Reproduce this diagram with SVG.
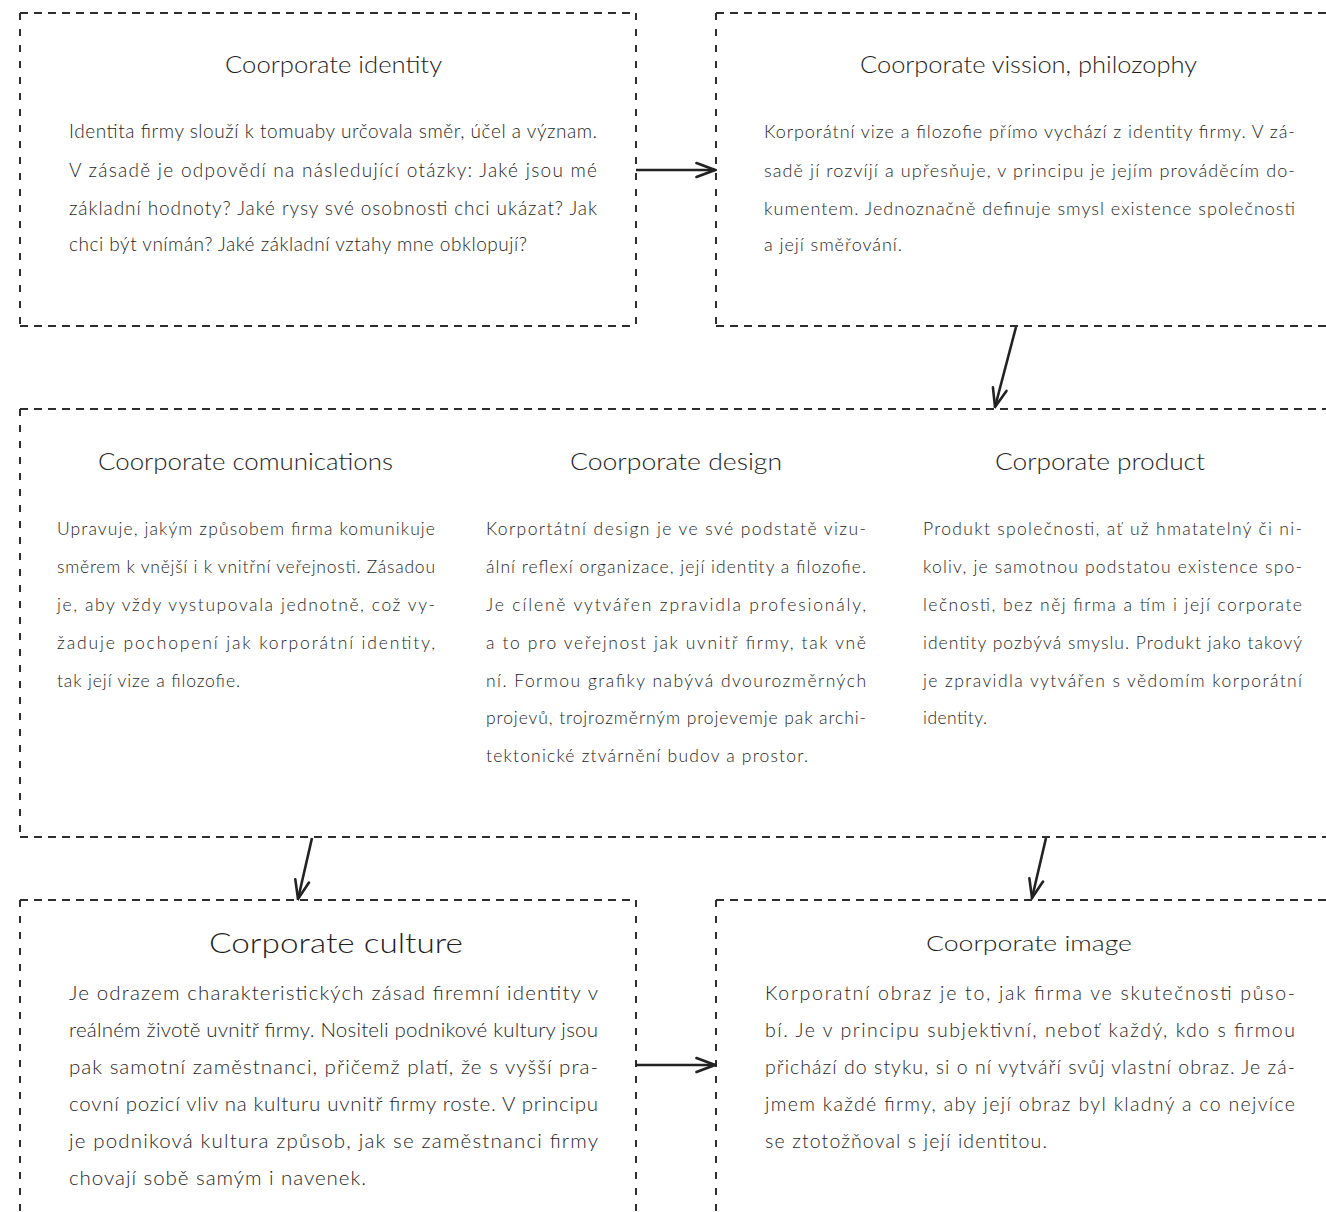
<svg xmlns="http://www.w3.org/2000/svg" width="1326" height="1212" viewBox="0 0 1326 1212">
<defs>
<style>
.bg{fill:#ffffff}
.h{stroke:#2e2e2e;stroke-width:2;stroke-dasharray:8 6;fill:none}
.v{stroke:#2e2e2e;stroke-width:2;stroke-dasharray:7 9;fill:none}
.t{font-family:Lato,"Liberation Sans",sans-serif;font-weight:300;fill:#1e1e1e}
.b{font-family:Lato,"Liberation Sans",sans-serif;font-weight:300;fill:#1f1f1f}
.conn{stroke:#222222;stroke-width:2.6;fill:none;marker-end:url(#arr)}
</style>
<marker id="arr" viewBox="0 0 22 18" refX="20.5" refY="9" markerWidth="22" markerHeight="18" markerUnits="userSpaceOnUse" orient="auto">
<path d="M2,2 L20.5,9 L2,16" fill="none" stroke="#222222" stroke-width="2.6" stroke-linecap="round" stroke-linejoin="miter"/>
</marker>
</defs>
<rect class="bg" x="0" y="0" width="1326" height="1212"/>

<g id="node-identity">
<line class="h" x1="20" y1="13" x2="636" y2="13"/>
<line class="h" x1="20" y1="326" x2="636" y2="326"/>
<line class="v" x1="20" y1="13" x2="20" y2="326"/>
<line class="v" x1="636" y1="13" x2="636" y2="326"/>
<text class="t" x="225" y="73" font-size="23" textLength="217" lengthAdjust="spacingAndGlyphs">Coorporate identity</text>
<g class="b" font-size="19">
<text x="69" y="138" textLength="528" lengthAdjust="spacing">Identita firmy slouží k tomuaby určovala směr, účel a význam.</text>
<text x="69" y="177" textLength="528" lengthAdjust="spacing">V zásadě je odpovědí na následující otázky: Jaké jsou mé</text>
<text x="69" y="215" textLength="528" lengthAdjust="spacing">základní hodnoty? Jaké rysy své osobnosti chci ukázat? Jak</text>
<text x="69" y="251" textLength="458" lengthAdjust="spacing">chci být vnímán? Jaké základní vztahy mne obklopují?</text>
</g>
</g>

<g id="node-vision">
<line class="h" x1="716" y1="13" x2="1326" y2="13"/>
<line class="h" x1="716" y1="326" x2="1326" y2="326"/>
<line class="v" x1="716" y1="13" x2="716" y2="326"/>
<text class="t" x="860" y="73" font-size="23" textLength="337" lengthAdjust="spacingAndGlyphs">Coorporate vission, philozophy</text>
<g class="b" font-size="18">
<text x="764" y="138" textLength="531" lengthAdjust="spacing">Korporátní vize a filozofie přímo vychází z identity firmy. V zá-</text>
<text x="764" y="177" textLength="531" lengthAdjust="spacing">sadě jí rozvíjí a upřesňuje, v principu je jejím prováděcím do-</text>
<text x="764" y="215" textLength="531" lengthAdjust="spacing">kumentem. Jednoznačně definuje smysl existence společnosti</text>
<text x="764" y="251" textLength="138" lengthAdjust="spacing">a její směřování.</text>
</g>
</g>

<g id="node-communications-design-product">
<line class="h" x1="20" y1="409" x2="1326" y2="409"/>
<line class="h" x1="20" y1="837" x2="1326" y2="837"/>
<line class="v" x1="20" y1="409" x2="20" y2="837"/>
<g id="col-communications">
<text class="t" x="98" y="470" font-size="23" textLength="295" lengthAdjust="spacingAndGlyphs">Coorporate comunications</text>
<g class="b" font-size="17.5">
<text x="57" y="535" textLength="378" lengthAdjust="spacing">Upravuje, jakým způsobem firma komunikuje</text>
<text x="57" y="573" textLength="378" lengthAdjust="spacing">směrem k vnější i k vnitřní veřejnosti. Zásadou</text>
<text x="57" y="611" textLength="378" lengthAdjust="spacing">je, aby vždy vystupovala jednotně, což vy-</text>
<text x="57" y="649" textLength="378" lengthAdjust="spacing">žaduje pochopení jak korporátní identity,</text>
<text x="57" y="687" textLength="183" lengthAdjust="spacing">tak její vize a filozofie.</text>
</g>
</g>
<g id="col-design">
<text class="t" x="570" y="470" font-size="23" textLength="212" lengthAdjust="spacingAndGlyphs">Coorporate design</text>
<g class="b" font-size="17.5">
<text x="486" y="535" textLength="380" lengthAdjust="spacing">Korportátní design je ve své podstatě vizu-</text>
<text x="486" y="573" textLength="380" lengthAdjust="spacing">ální reflexí organizace, její identity a filozofie.</text>
<text x="486" y="611" textLength="380" lengthAdjust="spacing">Je cíleně vytvářen zpravidla profesionály,</text>
<text x="486" y="649" textLength="380" lengthAdjust="spacing">a to pro veřejnost jak uvnitř firmy, tak vně</text>
<text x="486" y="687" textLength="380" lengthAdjust="spacing">ní. Formou grafiky nabývá dvourozměrných</text>
<text x="486" y="724" textLength="380" lengthAdjust="spacing">projevů, trojrozměrným projevemje pak archi-</text>
<text x="486" y="762" textLength="322" lengthAdjust="spacing">tektonické ztvárnění budov a prostor.</text>
</g>
</g>
<g id="col-product">
<text class="t" x="995" y="470" font-size="23" textLength="210" lengthAdjust="spacingAndGlyphs">Corporate product</text>
<g class="b" font-size="17.5">
<text x="923" y="535" textLength="379" lengthAdjust="spacing">Produkt společnosti, ať už hmatatelný či ni-</text>
<text x="923" y="573" textLength="379" lengthAdjust="spacing">koliv, je samotnou podstatou existence spo-</text>
<text x="923" y="611" textLength="379" lengthAdjust="spacing">lečnosti, bez něj firma a tím i její corporate</text>
<text x="923" y="649" textLength="379" lengthAdjust="spacing">identity pozbývá smyslu. Produkt jako takový</text>
<text x="923" y="687" textLength="379" lengthAdjust="spacing">je zpravidla vytvářen s vědomím korporátní</text>
<text x="923" y="724" textLength="64" lengthAdjust="spacing">identity.</text>
</g>
</g>
</g>

<g id="node-culture">
<line class="h" x1="20" y1="900" x2="636" y2="900"/>
<line class="v" x1="20" y1="900" x2="20" y2="1212"/>
<line class="v" x1="636" y1="900" x2="636" y2="1212"/>
<text class="t" x="209" y="953" font-size="28" textLength="254" lengthAdjust="spacingAndGlyphs">Corporate culture</text>
<g class="b" font-size="20.5">
<text x="69" y="1000" textLength="529" lengthAdjust="spacing">Je odrazem charakteristických zásad firemní identity v</text>
<text x="69" y="1037" textLength="529" lengthAdjust="spacing">reálném životě uvnitř firmy. Nositeli podnikové kultury jsou</text>
<text x="69" y="1074" textLength="529" lengthAdjust="spacing">pak samotní zaměstnanci, přičemž platí, že s vyšší pra-</text>
<text x="69" y="1111" textLength="529" lengthAdjust="spacing">covní pozicí vliv na kulturu uvnitř firmy roste. V principu</text>
<text x="69" y="1148" textLength="529" lengthAdjust="spacing">je podniková kultura způsob, jak se zaměstnanci firmy</text>
<text x="69" y="1185" textLength="297" lengthAdjust="spacing">chovají sobě samým i navenek.</text>
</g>
</g>

<g id="node-image">
<line class="h" x1="716" y1="900" x2="1326" y2="900"/>
<line class="v" x1="716" y1="900" x2="716" y2="1212"/>
<text class="t" x="926" y="951" font-size="22" textLength="206" lengthAdjust="spacingAndGlyphs">Coorporate image</text>
<g class="b" font-size="19.5">
<text x="765" y="1000" textLength="530" lengthAdjust="spacing">Korporatní obraz je to, jak firma ve skutečnosti půso-</text>
<text x="765" y="1037" textLength="530" lengthAdjust="spacing">bí. Je v principu subjektivní, neboť každý, kdo s firmou</text>
<text x="765" y="1074" textLength="530" lengthAdjust="spacing">přichází do styku, si o ní vytváří svůj vlastní obraz. Je zá-</text>
<text x="765" y="1111" textLength="530" lengthAdjust="spacing">jmem každé firmy, aby její obraz byl kladný a co nejvíce</text>
<text x="765" y="1148" textLength="282" lengthAdjust="spacing">se ztotožňoval s její identitou.</text>
</g>
</g>

<g id="connectors">
<line class="conn" x1="636" y1="170" x2="715" y2="170"/>
<line class="conn" x1="1016" y1="327" x2="995" y2="407"/>
<line class="conn" x1="312" y1="838" x2="298" y2="899"/>
<line class="conn" x1="1046" y1="838" x2="1032" y2="898"/>
<line class="conn" x1="636" y1="1065" x2="715" y2="1065"/>
</g>
</svg>
